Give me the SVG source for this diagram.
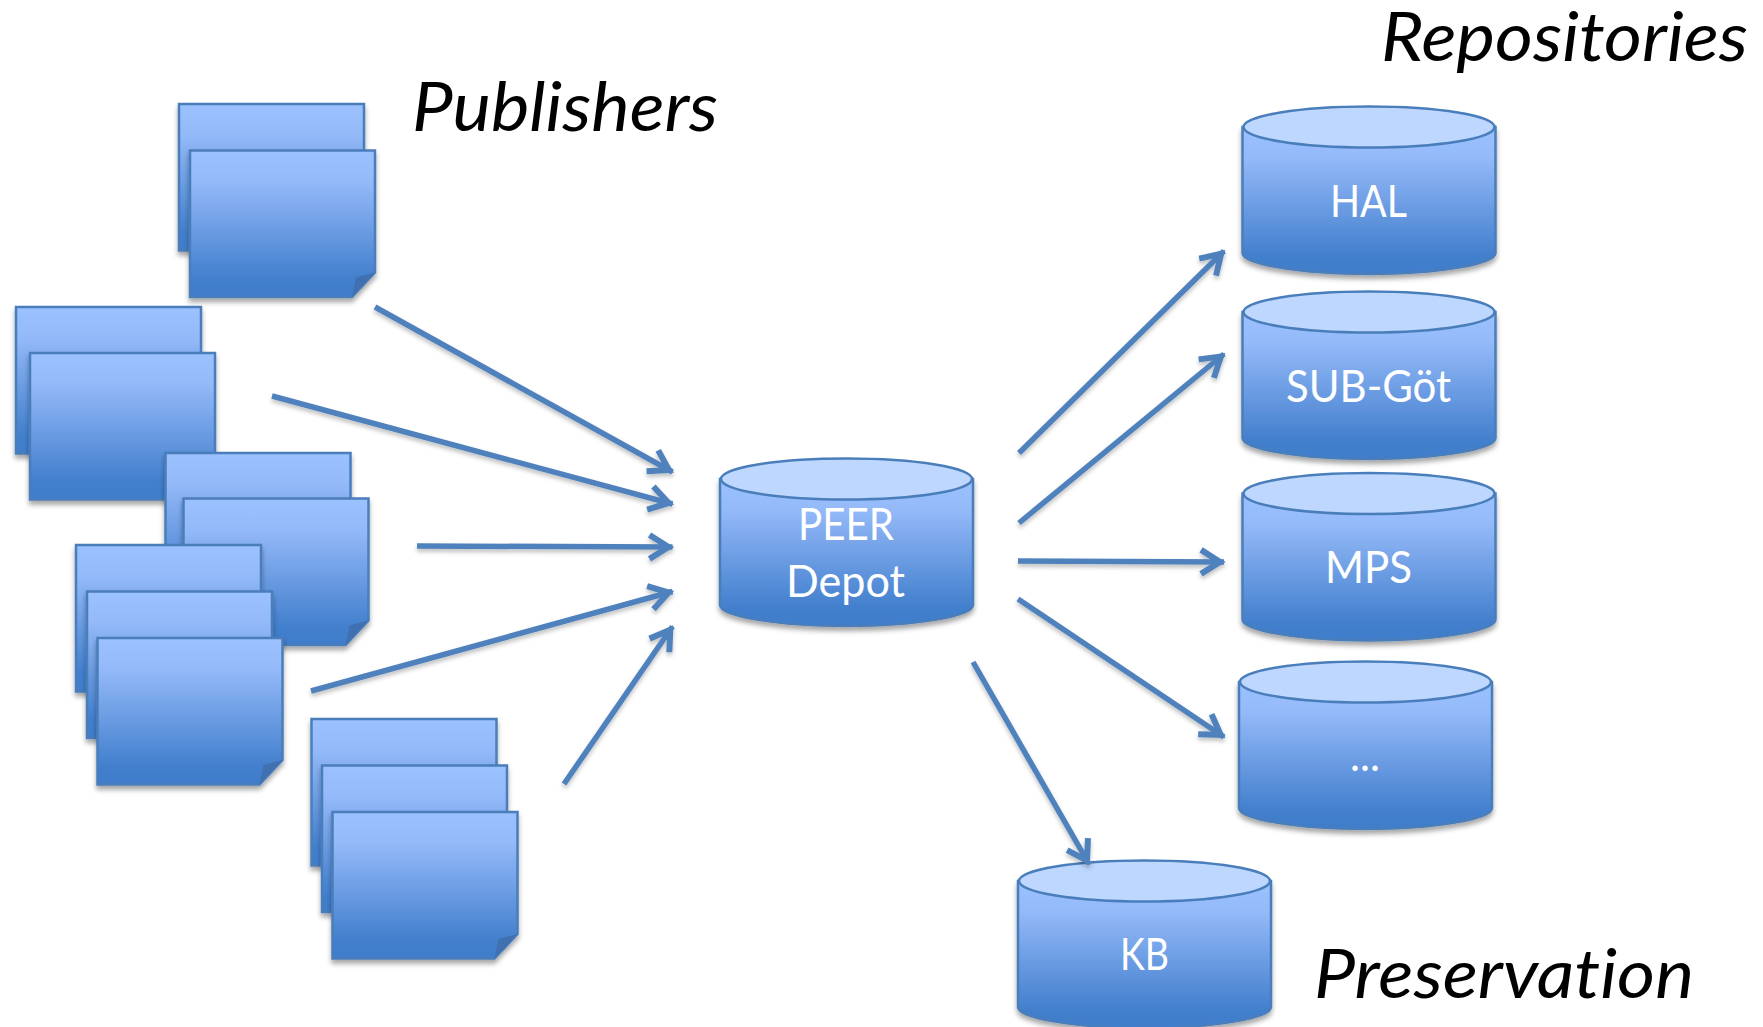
<svg xmlns="http://www.w3.org/2000/svg" xmlns:xlink="http://www.w3.org/1999/xlink" width="1763" height="1027" viewBox="0 0 1763 1027">
<style>
.body{fill:url(#g);stroke:#4A7EBB;stroke-width:2.5}
.top{fill:#BDD7FE;stroke:#4A7EBB;stroke-width:2.5}
.fold{fill:#3F6FAF}
.s{filter:url(#sh)}
.lbl{font-family:"Lato","Liberation Sans",sans-serif;fill:#fff;font-size:45px;font-variant-ligatures:none}
.ttl{font-family:"Lato","Liberation Sans",sans-serif;font-style:italic;fill:#000;font-size:67px;font-variant-ligatures:none}
.arr{fill:none;stroke:#4F81BD;stroke-width:5.5;marker-end:url(#ah)}
</style>
<defs>
<linearGradient id="g" x1="0" y1="0" x2="0" y2="1">
<stop offset="0" stop-color="#9CC1FF"/><stop offset=".2" stop-color="#95BAF9"/><stop offset=".88" stop-color="#427FCD"/><stop offset="1" stop-color="#407DCB"/>
</linearGradient>
<filter id="sh" x="-10%" y="-10%" width="120%" height="125%"><feDropShadow dx="0" dy="4" stdDeviation="2.5" flood-color="#000" flood-opacity=".35"/></filter>
<filter id="sa" x="-10%" y="-10%" width="120%" height="120%"><feDropShadow dx="0" dy="3" stdDeviation="2" flood-color="#000" flood-opacity=".25"/></filter>
<marker id="ah" markerUnits="userSpaceOnUse" markerWidth="34" markerHeight="34" refX="29" refY="17" orient="auto" viewBox="0 0 34 34"><path d="M6 5 L25 17 L6 29" fill="none" stroke="#4F81BD" stroke-width="6"/></marker>
<rect id="page" class="body s" width="185" height="146.500"/>
<g id="fpage" class="s"><path class="body" d="M0 0H185V122L162 146.500H0Z"/><path class="fold" d="M162 146.500L166 127L185 122Z"/></g>
<g id="cyl"><path class="body s" d="M0 21V147C0 158 57 168 126.500 168S253 158 253 147V21Z"/><ellipse class="top" cx="126.500" cy="21" rx="125.500" ry="20.500"/></g>
</defs>
<g id="stack-1"><use href="#page" x="179" y="104"/><use href="#fpage" x="190" y="150.500"/></g>
<g id="stack-2"><use href="#page" x="16" y="307"/><use href="#fpage" x="30" y="353"/></g>
<g id="stack-3"><use href="#page" x="165.500" y="453"/><use href="#fpage" x="183.500" y="498.500"/></g>
<g id="stack-4"><use href="#page" x="76" y="545"/><use href="#page" x="87" y="591.500"/><use href="#fpage" x="97.500" y="638"/></g>
<g id="stack-5"><use href="#page" x="311.500" y="719"/><use href="#page" x="322" y="765.500"/><use href="#fpage" x="332.500" y="812"/></g>
<g id="peer"><use href="#cyl" x="720" y="458"/><text class="lbl" x="798" y="540" textLength="96" lengthAdjust="spacingAndGlyphs">PEER</text><text class="lbl" x="786" y="597" textLength="119" lengthAdjust="spacingAndGlyphs">Depot</text></g>
<g id="hal"><use href="#cyl" x="1242.500" y="106"/><text class="lbl" x="1330" y="217" textLength="77" lengthAdjust="spacingAndGlyphs">HAL</text></g>
<g id="sub"><use href="#cyl" x="1242.500" y="291"/><text class="lbl" x="1286" y="402" textLength="165" lengthAdjust="spacingAndGlyphs">SUB-Göt</text></g>
<g id="mps"><use href="#cyl" x="1242.500" y="472.500"/><text class="lbl" x="1325" y="583" textLength="87" lengthAdjust="spacingAndGlyphs">MPS</text></g>
<g id="more"><use href="#cyl" x="1239" y="661"/><text class="lbl" x="1350" y="770.500" textLength="30" lengthAdjust="spacingAndGlyphs">...</text></g>
<g id="kb"><use href="#cyl" x="1018" y="860"/><text class="lbl" x="1120" y="970" textLength="49" lengthAdjust="spacingAndGlyphs">KB</text></g>
<g id="connectors" filter="url(#sa)">
<path class="arr" d="M375 307L672.500 472"/>
<path class="arr" d="M272 396L672.500 504"/>
<path class="arr" d="M417 546L672.500 547"/>
<path class="arr" d="M311 691L672.500 591.500"/>
<path class="arr" d="M564 784L672.500 626.500"/>
<path class="arr" d="M1019 453L1224 251"/>
<path class="arr" d="M1019 523L1224 354"/>
<path class="arr" d="M1018 561L1224 562"/>
<path class="arr" d="M1018 599L1224 737"/>
<path class="arr" d="M973 662L1089 864"/>
</g>
<g id="titles">
<text class="ttl" x="412" y="131" textLength="306" lengthAdjust="spacingAndGlyphs">Publishers</text>
<text class="ttl" x="1381" y="61" textLength="367" lengthAdjust="spacingAndGlyphs">Repositories</text>
<text class="ttl" x="1314" y="998" textLength="380" lengthAdjust="spacingAndGlyphs">Preservation</text>
</g>
</svg>
